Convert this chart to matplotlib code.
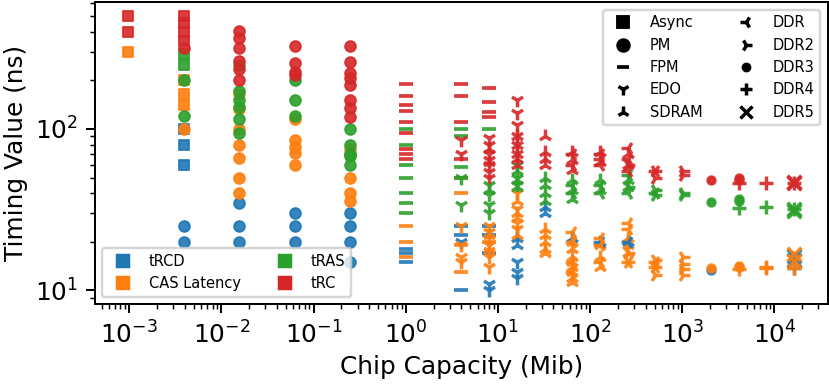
import matplotlib
matplotlib.use("Agg")
import matplotlib.pyplot as plt
from matplotlib.lines import Line2D

K = 1 / 1024  # one Kib expressed in Mib

# capacity (Mib) -> values (ns), one dict per memory type
ASYNC = {
    "tRCD": [(4 * K, 100), (4 * K, 80), (4 * K, 60)],
    "CAS Latency": [(1 * K, 300), (4 * K, 200), (4 * K, 165), (4 * K, 140)],
    "tRAS": [(4 * K, 290), (4 * K, 250)],
    "tRC": [(1 * K, 500), (1 * K, 400), (4 * K, 500), (4 * K, 450), (4 * K, 400), (4 * K, 350)],
}
PM = {
    "tRCD": [(4 * K, 25), (4 * K, 20), (16 * K, 35), (16 * K, 25), (16 * K, 20),
             (64 * K, 30), (64 * K, 25), (64 * K, 20),
             (256 * K, 30), (256 * K, 25), (256 * K, 20), (256 * K, 15)],
    "CAS Latency": [(4 * K, 100), (16 * K, 165), (16 * K, 133), (16 * K, 100), (16 * K, 80),
                    (16 * K, 66), (16 * K, 50), (16 * K, 40),
                    (64 * K, 115), (64 * K, 85), (64 * K, 77), (64 * K, 71), (64 * K, 60),
                    (256 * K, 75), (256 * K, 70), (256 * K, 50), (256 * K, 40), (256 * K, 36)],
    "tRAS": [(4 * K, 200), (4 * K, 120), (16 * K, 250), (16 * K, 172), (16 * K, 150),
             (16 * K, 137), (16 * K, 115), (16 * K, 95),
             (64 * K, 200), (64 * K, 150), (64 * K, 120),
             (256 * K, 100), (256 * K, 80), (256 * K, 70), (256 * K, 68), (256 * K, 60)],
    "tRC": [(4 * K, 315), (16 * K, 405), (16 * K, 365), (16 * K, 315), (16 * K, 265),
            (16 * K, 235), (16 * K, 200),
            (64 * K, 325), (64 * K, 255), (64 * K, 225), (64 * K, 215),
            (256 * K, 325), (256 * K, 260), (256 * K, 222), (256 * K, 207), (256 * K, 188),
            (256 * K, 150), (256 * K, 134), (256 * K, 119)],
}
FPM = {
    "tRCD": [(1, 18), (1, 17), (1, 15), (4, 25), (4, 22), (4, 10), (8, 25), (8, 22), (8, 17)],
    "CAS Latency": [(1, 25), (1, 20), (1, 16), (4, 50), (4, 40), (4, 19), (4, 13), (8, 20)],
    "tRAS": [(1, 100), (1, 80), (1, 60), (1, 50), (1, 40), (1, 35), (1, 30),
             (4, 100), (4, 90), (4, 58), (4, 50), (8, 100)],
    "tRC": [(1, 190), (1, 160), (1, 140), (1, 130), (1, 110), (1, 95), (1, 75), (1, 70), (1, 65),
            (4, 190), (4, 160), (4, 110), (4, 65), (8, 180), (8, 147), (8, 128), (8, 118)],
}
EDO = {
    "tRCD": [(4, 20), (8, 11), (8, 10), (16, 15), (16, 13), (16, 12)],
    "CAS Latency": [(4, 25), (4, 19), (4, 16), (4, 15), (8, 25), (8, 23), (8, 21), (8, 19),
                    (8, 17.5), (8, 16), (8, 14), (16, 40), (16, 32), (16, 26), (16, 24)],
    "tRAS": [(4, 50), (4, 34), (8, 45), (8, 39), (8, 34), (8, 30), (16, 60), (16, 50), (16, 45)],
    "tRC": [(4, 85), (4, 70), (8, 88), (8, 79), (8, 70), (8, 64), (8, 60), (8, 54), (8, 50),
            (16, 150), (16, 125), (16, 105), (16, 90), (16, 80), (16, 70)],
}
SDRAM = {
    "tRCD": [(16, 21), (16, 19), (32, 33), (32, 30), (64, 21), (128, 20), (256, 20)],
    "CAS Latency": [(8, 22), (8, 18), (16, 36), (16, 30), (16, 28), (16, 22),
                    (32, 24), (32, 22), (32, 20), (32, 18), (32, 17),
                    (64, 20), (64, 18), (64, 16), (64, 15), (64, 14), (64, 13), (64, 12), (64, 11.3),
                    (128, 19), (128, 16), (128, 14), (256, 21), (256, 19), (256, 17)],
    "tRAS": [(8, 42), (16, 55), (16, 48), (16, 44), (32, 50), (32, 45), (32, 40), (32, 36),
             (64, 48), (64, 42), (64, 37), (128, 48), (128, 42), (256, 48), (256, 44)],
    "tRC": [(8, 75), (8, 62), (16, 90), (16, 80), (16, 70), (16, 65), (16, 60),
            (32, 90), (32, 72), (32, 65), (32, 60), (64, 72), (64, 64), (64, 56),
            (128, 72), (128, 62), (256, 70), (256, 60)],
}
DDR = {
    "tRCD": [(128, 20), (256, 20)],
    "CAS Latency": [(64, 23), (64, 20), (64, 15), (64, 13), (128, 21), (128, 19), (128, 15),
                    (256, 26), (256, 24), (256, 15), (512, 15), (512, 14)],
    "tRAS": [(64, 45), (64, 40), (128, 45), (128, 40), (256, 52), (256, 40), (512, 40)],
    "tRC": [(64, 70), (64, 60), (128, 70), (128, 65), (128, 60), (256, 76), (256, 65), (256, 55),
            (512, 55)],
}
DDR2 = {
    "tRCD": [],
    "CAS Latency": [(256, 17), (256, 15), (512, 15.5), (512, 14), (512, 12.5),
                    (1024, 16), (1024, 14.5), (1024, 13.5), (1024, 12.5)],
    "tRAS": [(256, 44), (512, 42), (512, 39), (1024, 40), (1024, 39)],
    "tRC": [(256, 60), (512, 55), (512, 50), (1024, 55), (1024, 52)],
}
DDR3 = {
    "tRCD": [(2048, 13.3)],
    "CAS Latency": [(2048, 13.7), (4096, 14.2), (4096, 14)],
    "tRAS": [(2048, 35.5), (4096, 37), (4096, 36)],
    "tRC": [(2048, 48.5), (4096, 50), (4096, 48)],
}
DDR4 = {
    "tRCD": [(16384, 13.7)],
    "CAS Latency": [(4096, 13.6), (8192, 14), (8192, 13.7), (16384, 13.7)],
    "tRAS": [(4096, 32.5), (8192, 33), (16384, 32)],
    "tRC": [(4096, 46), (8192, 46), (16384, 46)],
}
DDR5 = {
    "tRCD": [(16384, 16.3), (16384, 15.5)],
    "CAS Latency": [(16384, 16.8), (16384, 15.3)],
    "tRAS": [(16384, 32), (16384, 31)],
    "tRC": [(16384, 47), (16384, 46)],
}

types = ["Async", "PM", "FPM", "EDO", "SDRAM", "DDR", "DDR2", "DDR3", "DDR4", "DDR5"]
type_data = [ASYNC, PM, FPM, EDO, SDRAM, DDR, DDR2, DDR3, DDR4, DDR5]
metrics = ["tRCD", "CAS Latency", "tRAS", "tRC"]

# marker, scatter size, edge width
styles = {
    "Async": ("s", 17, 0.75), "PM": ("o", 19, 0.75), "FPM": ("_", 31, 1.5),
    "EDO": ("1", 31, 1.4), "SDRAM": ("2", 31, 1.4), "DDR": ("3", 31, 1.4),
    "DDR2": ("4", 31, 1.4), "DDR3": (".", 31, 1.4), "DDR4": ("+", 31, 1.4),
    "DDR5": ("x", 31, 1.4),
}
colors = {"tRCD": "C0", "CAS Latency": "C1", "tRAS": "C2", "tRC": "C3"}

DPI = 178
fig, ax = plt.subplots(figsize=(830 / DPI, 385 / DPI))

for name, data in zip(types, type_data):
    m, s, lw = styles[name]
    for met in metrics:
        pts = data[met]
        if not pts:
            continue
        xs = [p[0] for p in pts]
        ys = [p[1] for p in pts]
        ax.scatter(xs, ys, marker=m, s=s, linewidths=lw, color=colors[met], alpha=0.9)

ax.set_xscale("log")
ax.set_yscale("log")
ax.set_xlabel("Chip Capacity (Mib)", labelpad=2.5)
ax.set_ylabel("Timing Value (ns)", labelpad=2.5)

# legend for the timing parameters
h1 = [Line2D([], [], marker="s", color=colors[m], linestyle="None", markersize=5.1) for m in metrics]
leg1 = ax.legend(h1, metrics, loc="lower left", ncol=2, fontsize=5.9)
ax.add_artist(leg1)

# legend for memory types
h2 = []
for name in types:
    m, s, lw = styles[name]
    h2.append(Line2D([], [], marker=m, color="k", linestyle="None", markersize=5.1,
                     markeredgewidth=lw if lw > 1 else 0.75))
ax.legend(h2, types, loc="upper right", ncol=2, fontsize=5.9)

fig.subplots_adjust(left=0.1145, right=0.997, bottom=0.21, top=0.994)
fig.savefig("out.png", dpi=DPI)
